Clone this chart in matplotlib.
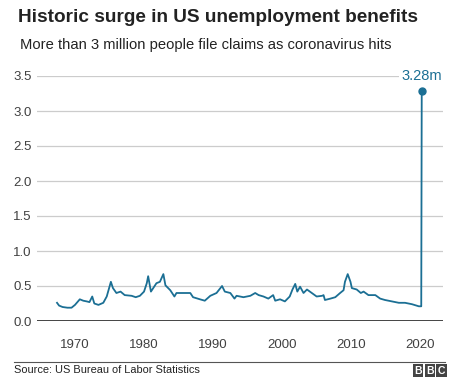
import matplotlib
matplotlib.use("Agg")
import matplotlib.pyplot as plt
from matplotlib.patches import Rectangle

plt.rcParams["font.family"] = ["Liberation Sans", "DejaVu Sans"]

# weekly jobless claims (millions)
years = [1967.4, 1967.7, 1968.2, 1968.9, 1969.5, 1970.0, 1970.7, 1971.2, 1971.7,
         1972.1, 1972.5, 1972.8, 1973.4, 1974.1, 1974.6, 1975.0, 1975.2, 1975.5,
         1976.0, 1976.6, 1977.2, 1978.2, 1978.8, 1979.4, 1980.0, 1980.4, 1980.6,
         1981.0, 1981.8, 1982.3, 1982.8, 1983.1, 1983.8, 1984.4, 1984.7, 1985.7,
         1986.7, 1987.1, 1988.1, 1988.8, 1989.6, 1990.5, 1991.3, 1991.7, 1992.5,
         1993.1, 1993.4, 1994.4, 1995.4, 1996.1, 1996.6, 1997.3, 1998.0, 1998.7,
         1999.0, 1999.7, 2000.4, 2001.1, 2001.5, 2001.9, 2002.2, 2002.6, 2003.1,
         2003.6, 2004.3, 2005.0, 2005.8, 2006.0, 2006.2, 2007.0, 2007.7, 2008.4,
         2008.9, 2009.1, 2009.5, 2009.9, 2010.1, 2010.8, 2011.4, 2011.8, 2012.5,
         2013.5, 2014.2, 2014.9, 2015.9, 2016.9, 2017.8, 2018.8, 2019.8, 2020.15,
         2020.22]
claims = [0.26, 0.22, 0.20, 0.19, 0.19, 0.23, 0.31, 0.29, 0.28,
          0.27, 0.35, 0.25, 0.23, 0.26, 0.35, 0.49, 0.56, 0.47,
          0.40, 0.42, 0.37, 0.36, 0.34, 0.36, 0.42, 0.54, 0.64,
          0.42, 0.54, 0.56, 0.67, 0.51, 0.44, 0.35, 0.40, 0.40,
          0.40, 0.34, 0.31, 0.29, 0.36, 0.40, 0.50, 0.42, 0.40,
          0.32, 0.36, 0.34, 0.36, 0.40, 0.37, 0.35, 0.32, 0.37,
          0.29, 0.31, 0.28, 0.35, 0.45, 0.53, 0.42, 0.49, 0.40,
          0.45, 0.40, 0.35, 0.36, 0.37, 0.30, 0.32, 0.34, 0.40,
          0.44, 0.56, 0.67, 0.56, 0.47, 0.45, 0.40, 0.42, 0.37,
          0.37, 0.32, 0.30, 0.28, 0.26, 0.26, 0.24, 0.21, 0.21,
          3.28]
peak_label = "3.28m"

yticks = [0.0, 0.5, 1.0, 1.5, 2.0, 2.5, 3.0, 3.5]
xticks = [1970, 1980, 1990, 2000, 2010, 2020]

line_color = "#1b6f94"
text_color = "#222222"

fig = plt.figure(figsize=(4.56, 3.82), dpi=100)
ax = fig.add_axes([37 / 456, 61 / 382, 406 / 456, 245 / 382])

ax.set_xlim(1964.5, 2023.3)
ax.set_ylim(0, 3.5)
for y in yticks[1:]:
    ax.axhline(y, color="#cccccc", linewidth=0.9, zorder=1)
ax.axhline(0, color="#333333", linewidth=2.0, zorder=3)

ax.plot(years, claims, color=line_color, linewidth=1.3, zorder=4, clip_on=False)
ax.plot(years[-1], claims[-1], "o", color=line_color, markersize=5, zorder=5,
        clip_on=False)
ax.text(years[-1], 3.5, peak_label, color=line_color, fontsize=10.5,
        ha="center", va="center", zorder=6,
        bbox=dict(facecolor="white", edgecolor="none", pad=1.5))

for s in ax.spines.values():
    s.set_visible(False)
ax.set_yticks(yticks)
ax.set_yticklabels([f"{v:.1f}" for v in yticks])
ax.set_xticks(xticks)
ax.tick_params(axis="both", length=0, labelsize=9.5, colors="#404040")
ax.tick_params(axis="y", pad=4)
ax.tick_params(axis="x", pad=13)

fig.text(18 / 456, 1 - 17 / 382, "Historic surge in US unemployment benefits",
         fontsize=13.7, fontweight="bold", color=text_color, va="center", ha="left")
fig.text(20 / 456, 1 - 45 / 382, "More than 3 million people file claims as coronavirus hits",
         fontsize=10.6, color=text_color, va="center", ha="left")

# footer rule, source and logo
fig.add_artist(plt.Line2D([14 / 456, 445 / 456], [1 - 362 / 382] * 2,
                          color="#555555", linewidth=0.8))
fig.text(14 / 456, 1 - 370 / 382, "Source: US Bureau of Labor Statistics",
         fontsize=7.9, color=text_color, va="center", ha="left")
for i, letter in enumerate("BBC"):
    x0 = (413 + i * 11.7) / 456
    fig.add_artist(Rectangle((x0, 1 - 377 / 382), 10.5 / 456, 13 / 382,
                             transform=fig.transFigure, facecolor="#444444",
                             edgecolor="none"))
    fig.text(x0 + 5.25 / 456, 1 - 370.5 / 382, letter, color="white", fontsize=7.5,
             fontweight="bold", ha="center", va="center")

fig.savefig("out.png", dpi=100, facecolor="white")
